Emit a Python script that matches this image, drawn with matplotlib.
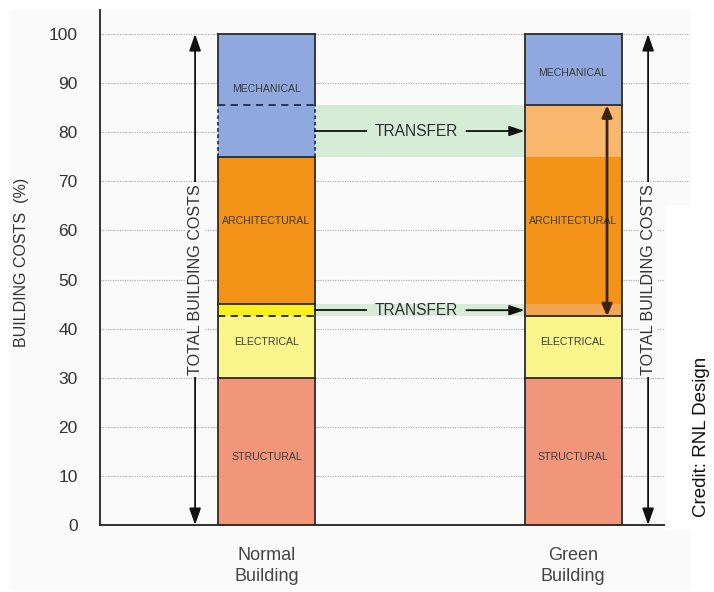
import matplotlib
matplotlib.use("Agg")
import matplotlib.pyplot as plt
from matplotlib.patches import Rectangle

plt.rcParams['font.family'] = ['Liberation Sans', 'DejaVu Sans']

# ---- data (percent of total building cost) ----
categories = ['Normal\nBuilding', 'Green\nBuilding']
structural = [30, 30]
electrical = [15, 12.5]
architectural = [30, 43]
mechanical = [25, 14.5]
transfer_electrical = 2.5    # share moved from electrical to architectural
transfer_mechanical = 10.5   # share moved from mechanical to architectural
yticks = list(range(0, 101, 10))

# ---- colours ----
C_STRUCT = '#f1967b'
C_ELEC = '#fbf68c'
C_ELEC_T = '#f7ef1e'
C_ARCH = '#f39418'
C_ARCH_T_UP = '#f8b76d'
C_ARCH_T_LO = '#f3a553'
C_MECH = '#8fa8dd'
C_BAND = '#d6ecd7'
C_EDGE = '#2b2b2b'
C_TXT = '#3b3b3b'
C_PANEL = '#fafafa'

W, H = 714, 592
fig = plt.figure(figsize=(W / 100, H / 100), dpi=100)
fig.patch.set_facecolor('white')


def fx(px):
    return px / W


def fy(py):
    return (H - py) / H


# light panel behind the chart, with a white notch on the right
fig.patches.append(Rectangle((fx(10), fy(590)), fx(690) - fx(10), fy(10) - fy(590),
                             transform=fig.transFigure, facecolor=C_PANEL,
                             edgecolor='none', zorder=-2))
fig.patches.append(Rectangle((fx(665), fy(530)), fx(714) - fx(665), fy(205) - fy(530),
                             transform=fig.transFigure, facecolor='white',
                             edgecolor='none', zorder=5))

ax = fig.add_axes([fx(100), fy(525), fx(690) - fx(100), fy(10) - fy(525)])
ax.set_facecolor('none')

x0 = -0.5432
x1 = 1.3817
ax.set_xlim(x0, x1)
ax.set_ylim(0, 104.9)

xs = [0, 1]
bw = 0.3165
hw = bw / 2

# grid
for t in yticks[1:]:
    ax.axhline(t, color='#a8a8a8', lw=0.8, ls=(0, (1, 1.2)), zorder=0.5)

# ---- segments ----
def seg(x, b, h, color):
    ax.bar(x, h, bottom=b, width=bw, color=color, edgecolor='none', zorder=2)

# normal building
n = 0
b = 0
seg(xs[n], b, structural[n], C_STRUCT); b += structural[n]
seg(xs[n], b, electrical[n] - transfer_electrical, C_ELEC)
seg(xs[n], b + electrical[n] - transfer_electrical, transfer_electrical, C_ELEC_T)
b += electrical[n]
seg(xs[n], b, architectural[n], C_ARCH); b += architectural[n]
seg(xs[n], b, mechanical[n], C_MECH)

# green building
g = 1
b = 0
seg(xs[g], b, structural[g], C_STRUCT); b += structural[g]
seg(xs[g], b, electrical[g], C_ELEC); b += electrical[g]
seg(xs[g], b, transfer_electrical, C_ARCH_T_LO)
seg(xs[g], b + transfer_electrical, architectural[g] - transfer_electrical - transfer_mechanical, C_ARCH)
seg(xs[g], b + architectural[g] - transfer_mechanical, transfer_mechanical, C_ARCH_T_UP)
b += architectural[g]
seg(xs[g], b, mechanical[g], C_MECH)

# ---- outlines ----
lw = 1.3
n_elec_top = structural[0] + electrical[0]
n_elec_split = n_elec_top - transfer_electrical
n_arch_top = n_elec_top + architectural[0]
n_mech_split = n_arch_top + transfer_mechanical
total_n = n_arch_top + mechanical[0]

for xe in (xs[0] - hw, xs[0] + hw):
    ax.plot([xe, xe], [0, n_arch_top], color=C_EDGE, lw=lw, zorder=3)
    ax.plot([xe, xe], [n_arch_top, n_mech_split], color='#2a3550', lw=lw,
            ls=(0, (2, 1.5)), zorder=3)
    ax.plot([xe, xe], [n_mech_split, total_n], color=C_EDGE, lw=lw, zorder=3)
for yy in (0, structural[0], n_elec_top, n_arch_top, total_n):
    ax.plot([xs[0] - hw, xs[0] + hw], [yy, yy], color=C_EDGE, lw=lw, zorder=3)
ax.plot([xs[0] - hw, xs[0] + hw], [n_elec_split, n_elec_split], color='#222222',
        lw=lw, ls=(0, (4, 3)), zorder=3)
ax.plot([xs[0] - hw, xs[0] + hw], [n_mech_split, n_mech_split], color='#1f2d55',
        lw=lw, ls=(0, (4, 3)), zorder=3)

g_elec_top = structural[1] + electrical[1]
g_arch_top = g_elec_top + architectural[1]
total_g = g_arch_top + mechanical[1]
for xe in (xs[1] - hw, xs[1] + hw):
    ax.plot([xe, xe], [0, total_g], color=C_EDGE, lw=lw, zorder=3)
for yy in (0, structural[1], g_elec_top, g_arch_top, total_g):
    ax.plot([xs[1] - hw, xs[1] + hw], [yy, yy], color=C_EDGE, lw=lw, zorder=3)

# ---- segment labels ----
lab_kw = dict(ha='center', va='center', fontsize=7.6, color=C_TXT, zorder=4)
ax.text(xs[0], 88.8, 'MECHANICAL', **lab_kw)
ax.text(xs[0], 62, 'ARCHITECTURAL', **lab_kw)
ax.text(xs[0], 37.3, 'ELECTRICAL', **lab_kw)
ax.text(xs[0], 13.8, 'STRUCTURAL', **lab_kw)
ax.text(xs[1], 92, 'MECHANICAL', **lab_kw)
ax.text(xs[1], 62, 'ARCHITECTURAL', **lab_kw)
ax.text(xs[1], 37.3, 'ELECTRICAL', **lab_kw)
ax.text(xs[1], 13.8, 'STRUCTURAL', **lab_kw)

# ---- transfer bands and arrows ----
left_edge = xs[0] + hw
right_edge = xs[1] - hw
text_x = 0.489
gap = 0.163
for lo, hi in ((n_arch_top, n_mech_split), (n_elec_split, n_elec_top)):
    ax.add_patch(Rectangle((left_edge, lo), right_edge - left_edge, hi - lo,
                           facecolor=C_BAND, edgecolor='none', zorder=1))
    ym = (lo + hi) / 2
    ax.plot([left_edge, text_x - gap], [ym, ym], color='#111111', lw=1.3, zorder=3)
    ax.annotate('', xy=(right_edge, ym), xytext=(text_x + gap, ym),
                arrowprops=dict(arrowstyle='-|>,head_length=0.9,head_width=0.3',
                                color='#111111', lw=1.3, shrinkA=0, shrinkB=0),
                zorder=3)
    ax.text(text_x, ym, 'TRANSFER', ha='center', va='center', fontsize=11.2,
            color='#2e2e2e', zorder=4)

# architectural growth arrow inside the green bar
ax.annotate('', xy=(1.111, g_arch_top), xytext=(1.111, g_elec_top),
            arrowprops=dict(arrowstyle='<|-|>,head_length=0.7,head_width=0.3',
                            color='#3a2410', lw=2.0, shrinkA=0, shrinkB=0),
            zorder=4)

# ---- total building cost arrows ----
for xa in (-0.233, 1.245):
    ax.annotate('', xy=(xa, 100), xytext=(xa, 0),
                arrowprops=dict(arrowstyle='<|-|>,head_length=1.0,head_width=0.35',
                                color='#111111', lw=1.3, shrinkA=0, shrinkB=0),
                zorder=3)
    ax.text(xa, 50, 'TOTAL BUILDING COSTS', rotation=90, ha='center', va='center',
            fontsize=11.6, color='#333333', zorder=4,
            bbox=dict(facecolor=C_PANEL, edgecolor='none', pad=1.5))

# ---- axes styling ----
ax.set_yticks(yticks)
ax.set_yticklabels([str(t) for t in yticks], fontsize=12.5, color='#333333')
ax.set_xticks(xs)
ax.set_xticklabels(categories, fontsize=13, color='#444444', linespacing=1.3)
ax.tick_params(axis='both', length=0)
ax.tick_params(axis='y', pad=16)
ax.tick_params(axis='x', pad=16)
for s in ('top', 'right'):
    ax.spines[s].set_visible(False)
ax.spines['left'].set_color('#222222')
ax.spines['bottom'].set_color('#222222')
ax.spines['left'].set_linewidth(1.3)
ax.spines['bottom'].set_linewidth(1.3)
ax.spines['bottom'].set_bounds(x0, (665 - 266.5) / 306.5)

fig.text(fx(22), fy(262), 'BUILDING COSTS  (%)', rotation=90, ha='center', va='center',
         fontsize=11.5, color='#333333')
fig.text(fx(702), fy(437), 'Credit: RNL Design', rotation=90, ha='center', va='center',
         fontsize=13.5, color='#111111', zorder=6)

fig.savefig('out.png', dpi=100, facecolor=fig.get_facecolor())
